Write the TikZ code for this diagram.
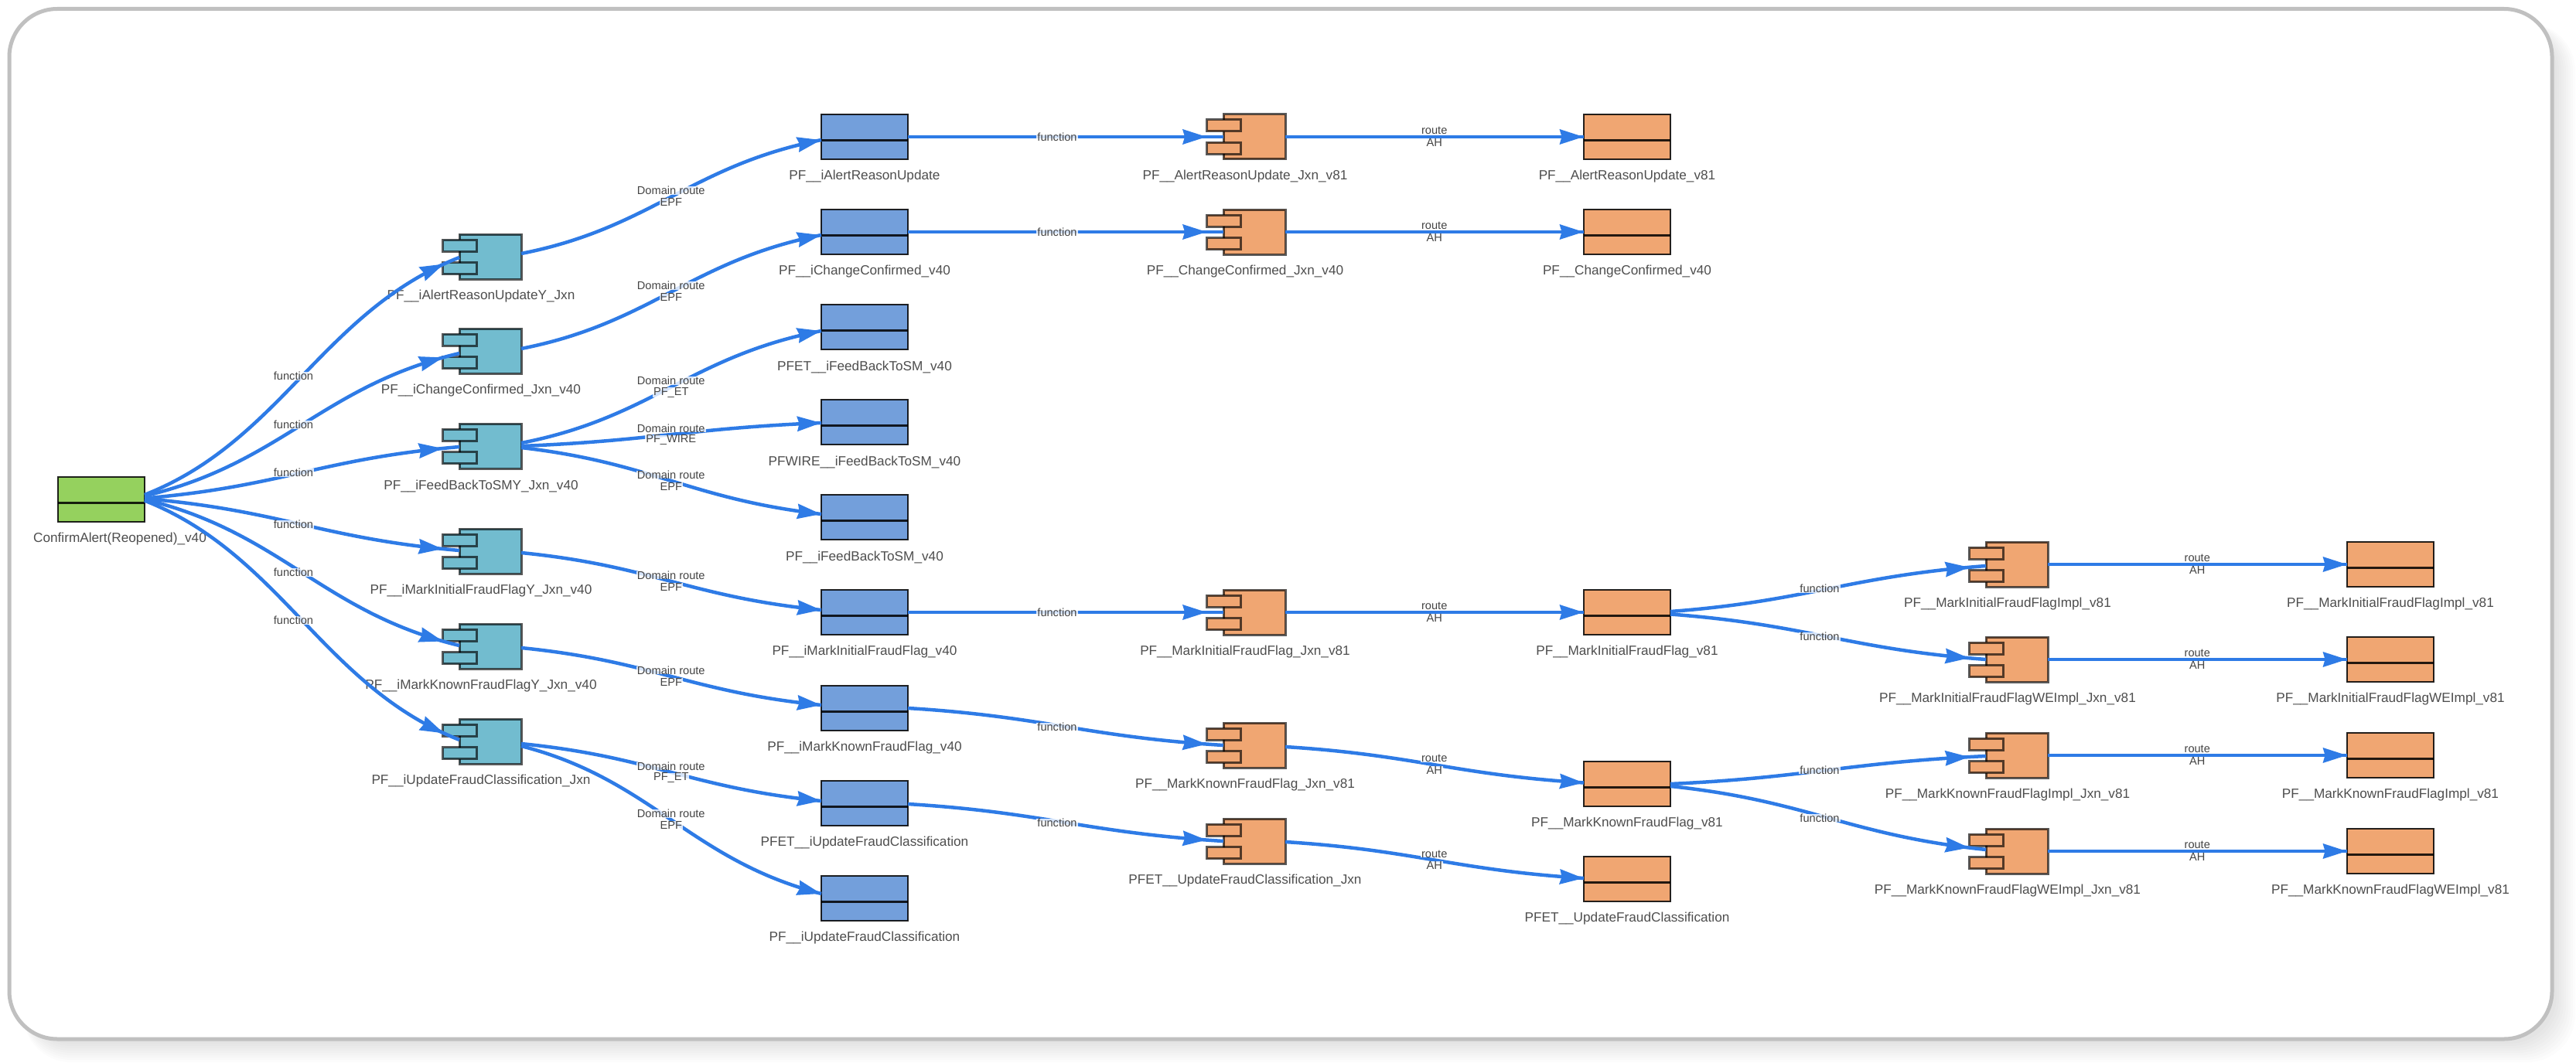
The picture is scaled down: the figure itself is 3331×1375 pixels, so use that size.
\documentclass[tikz,border=0pt]{standalone}
\usepackage{fontspec}
\setmainfont{Liberation Sans}
\usetikzlibrary{calc,decorations.markings}
\catcode`\_=12

\definecolor{flowblue}{HTML}{2E7BE6}
\definecolor{leafgreen}{HTML}{95D15E}
\definecolor{tealfill}{HTML}{72BCCF}
\definecolor{bluefill}{HTML}{739FDB}
\definecolor{orangefill}{HTML}{F0A672}
\definecolor{captiongrey}{HTML}{4E4E4E}
\definecolor{edgegrey}{HTML}{444444}
\definecolor{framegrey}{HTML}{C0C0C0}

\tikzset{
  boxbody/.style={rectangle,anchor=north west,inner sep=0pt,outer sep=0pt,
    minimum width=112pt,minimum height=58pt,draw=black,draw opacity=.85,line width=2.6pt},
  compbody/.style={rectangle,anchor=north west,inner sep=0pt,outer sep=0pt,
    minimum width=80pt,minimum height=58pt,draw=black,draw opacity=.65,line width=3pt},
  comptab/.style={rectangle,anchor=north west,inner sep=0pt,outer sep=0pt,
    minimum width=44pt,minimum height=15pt,draw=black,draw opacity=.65,line width=3pt},
  divider/.style={draw=black,draw opacity=.85,line width=3pt},
  caption/.style={inner sep=0pt,text=captiongrey,font=\fontsize{17.2pt}{20pt}\selectfont},
  edgetext/.style={inner xsep=1pt,inner ysep=0pt,fill=white,fill opacity=.8,text opacity=1,
    text=edgegrey,font=\fontsize{14.6pt}{16pt}\selectfont},
  flow/.style={draw=flowblue,line width=4.5pt},
  headat/.style={postaction={decorate,decoration={markings,
    mark=at position -#1 with {\fill[flowblue] (0pt,0pt) -- (-31pt,10pt) -- (-28pt,0pt) -- (-31pt,-10pt) -- cycle;}}}}
}

% #1 name, #2 left, #3 top, #4 fill, #5 caption: two-band rectangle
\newcommand\bandbox[5]{%
  \node[boxbody,fill=#4] (#1) at (#2+1,#3+1) {};
  \draw[divider] ($(#1.north west)+(0,33.5)$) -- ($(#1.north east)+(0,33.5)$);
  \node[caption] (#1-cap) at ($(#1.north)+(0,80.5)$) {#5};
}
% #1 name, #2 body left, #3 top, #4 fill, #5 caption: component with two tabs
\newcommand\compbox[5]{%
  \node[compbody,fill=#4] (#1) at (#2+1,#3+1) {};
  \node[comptab,fill=#4] (#1-tabA) at (#2-20.5,#3+8) {};
  \node[comptab,fill=#4] (#1-tabB) at (#2-20.5,#3+37.5) {};
  \node[caption] (#1-cap) at ($(#1.north west)+(28,80.5)$) {#5};
}
% #1 source, #2 source offset, #3 target, #4 target offset,
% #5 distance of the arrow tip from the end, #6 label
\newcommand\flowone[6]{%
  \draw[flow,headat=#5pt] let \p1=($(#1.east)+(0,#2)$), \p2=($(#3.west)+(0,#4)$) in
    (\p1) .. controls ({\x1+.435*(\x2-\x1)},{\y1+.226*(\y2-\y1)})
             and ({\x1+.565*(\x2-\x1)},{\y1+.774*(\y2-\y1)}) .. (\p2)
    node[edgetext,pos=.5,xshift=-#5pt/2] (#1-#3-a) {#6};
}
% same, with a two-line label (#6 above #7)
\newcommand\flowtwo[7]{%
  \draw[flow,headat=#5pt] let \p1=($(#1.east)+(0,#2)$), \p2=($(#3.west)+(0,#4)$) in
    (\p1) .. controls ({\x1+.435*(\x2-\x1)},{\y1+.226*(\y2-\y1)})
             and ({\x1+.565*(\x2-\x1)},{\y1+.774*(\y2-\y1)}) .. (\p2)
    node[edgetext,pos=.5,xshift=-#5pt/2,yshift=8pt] (#1-#3-a) {#6}
    node[edgetext,pos=.5,xshift=-#5pt/2,yshift=-7pt] (#1-#3-b) {#7};
}

\begin{document}
\begin{tikzpicture}[x=1pt,y=-1pt]
  \useasboundingbox (0,0) rectangle (3331,1375);
  \fill[white] (0,0) rectangle (3331,1375);

  % soft shadow to the lower right, then the outer frame
  \foreach \r in {24,21,...,0}{
    \fill[black,fill opacity=.012,rounded corners=62pt]
      (30,30) rectangle (3306+\r,1350+\r);
  }
  \draw[draw=framegrey,fill=white,line width=5pt,rounded corners=62pt]
    (12,11.5) rectangle (3300,1344);

  % entry point
  \bandbox{entry}{74}{616}{leafgreen}{}
  \node[caption] (entrycap) at (155,697) {ConfirmAlert(Reopened)_v40};

  % junction components
  \compbox{ta}{593}{302}{tealfill}{PF__iAlertReasonUpdateY_Jxn}
  \compbox{tb}{593}{424}{tealfill}{PF__iChangeConfirmed_Jxn_v40}
  \compbox{tc}{593}{547}{tealfill}{PF__iFeedBackToSMY_Jxn_v40}
  \compbox{td}{593}{683}{tealfill}{PF__iMarkInitialFraudFlagY_Jxn_v40}
  \compbox{te}{593}{806}{tealfill}{PF__iMarkKnownFraudFlagY_Jxn_v40}
  \compbox{tf}{593}{929}{tealfill}{PF__iUpdateFraudClassification_Jxn}

  % interface boxes
  \bandbox{ba}{1061}{147}{bluefill}{PF__iAlertReasonUpdate}
  \bandbox{bb}{1061}{270}{bluefill}{PF__iChangeConfirmed_v40}
  \bandbox{bc}{1061}{393}{bluefill}{PFET__iFeedBackToSM_v40}
  \bandbox{bd}{1061}{516}{bluefill}{PFWIRE__iFeedBackToSM_v40}
  \bandbox{be}{1061}{639}{bluefill}{PF__iFeedBackToSM_v40}
  \bandbox{bf}{1061}{762}{bluefill}{PF__iMarkInitialFraudFlag_v40}
  \bandbox{bg}{1061}{886}{bluefill}{PF__iMarkKnownFraudFlag_v40}
  \bandbox{bh}{1061}{1009}{bluefill}{PFET__iUpdateFraudClassification}
  \bandbox{bi}{1061}{1132}{bluefill}{PF__iUpdateFraudClassification}

  % implementation junctions
  \compbox{ca}{1581}{147}{orangefill}{PF__AlertReasonUpdate_Jxn_v81}
  \compbox{cb}{1581}{270}{orangefill}{PF__ChangeConfirmed_Jxn_v40}
  \compbox{cc}{1581}{762}{orangefill}{PF__MarkInitialFraudFlag_Jxn_v81}
  \compbox{cd}{1581}{934}{orangefill}{PF__MarkKnownFraudFlag_Jxn_v81}
  \compbox{ce}{1581}{1058}{orangefill}{PFET__UpdateFraudClassification_Jxn}

  % implementations
  \bandbox{ra}{2047}{147}{orangefill}{PF__AlertReasonUpdate_v81}
  \bandbox{rb}{2047}{270}{orangefill}{PF__ChangeConfirmed_v40}
  \bandbox{rc}{2047}{762}{orangefill}{PF__MarkInitialFraudFlag_v81}
  \bandbox{rd}{2047}{984}{orangefill}{PF__MarkKnownFraudFlag_v81}
  \bandbox{re}{2047}{1107}{orangefill}{PFET__UpdateFraudClassification}

  % second-level junctions
  \compbox{da}{2567}{700}{orangefill}{PF__MarkInitialFraudFlagImpl_v81}
  \compbox{db}{2567}{823}{orangefill}{PF__MarkInitialFraudFlagWEImpl_Jxn_v81}
  \compbox{dc}{2567}{947}{orangefill}{PF__MarkKnownFraudFlagImpl_Jxn_v81}
  \compbox{dd}{2567}{1071}{orangefill}{PF__MarkKnownFraudFlagWEImpl_Jxn_v81}

  % second-level implementations
  \bandbox{ea}{3034}{700}{orangefill}{PF__MarkInitialFraudFlagImpl_v81}
  \bandbox{eb}{3034}{823}{orangefill}{PF__MarkInitialFraudFlagWEImpl_v81}
  \bandbox{ec}{3034}{947}{orangefill}{PF__MarkKnownFraudFlagImpl_v81}
  \bandbox{ed}{3034}{1071}{orangefill}{PF__MarkKnownFraudFlagWEImpl_v81}

  % entry to junctions
  \flowone{entry}{-6}{ta}{1}{22}{function}
  \flowone{entry}{-4.5}{tb}{3}{22}{function}
  \flowone{entry}{-1.5}{tc}{1}{22}{function}
  \flowone{entry}{-1}{td}{-1}{22}{function}
  \flowone{entry}{0}{te}{-1}{22}{function}
  \flowone{entry}{1.5}{tf}{-2}{22}{function}

  % junctions to interfaces
  \flowtwo{ta}{-4}{ba}{4}{.5}{Domain route}{EPF}
  \flowtwo{tb}{-3}{bb}{4}{.5}{Domain route}{EPF}
  \flowtwo{tc}{-4}{bc}{5}{.5}{Domain route}{PF_ET}
  \flowtwo{tc}{0}{bd}{1}{.5}{Domain route}{PF_WIRE}
  \flowtwo{tc}{2}{be}{-4}{.5}{Domain route}{EPF}
  \flowtwo{td}{2}{bf}{-3}{.5}{Domain route}{EPF}
  \flowtwo{te}{2}{bg}{-4}{.5}{Domain route}{EPF}
  \flowtwo{tf}{3}{bh}{-3}{.5}{Domain route}{PF_ET}
  \flowtwo{tf}{6}{bi}{-6}{.5}{Domain route}{EPF}

  % interfaces to implementation junctions
  \flowone{ba}{0}{ca}{0}{22}{function}
  \flowone{bb}{0}{cb}{0}{22}{function}
  \flowone{bf}{0}{cc}{0}{22}{function}
  \flowone{bg}{0}{cd}{0}{22}{function}
  \flowone{bh}{1}{ce}{0}{22}{function}

  % implementation junctions to implementations
  \flowtwo{ca}{0}{ra}{0}{.5}{route}{AH}
  \flowtwo{cb}{0}{rb}{0}{.5}{route}{AH}
  \flowtwo{cc}{0}{rc}{0}{.5}{route}{AH}
  \flowtwo{cd}{2}{rd}{-1.5}{.5}{route}{AH}
  \flowtwo{ce}{1}{re}{-1}{.5}{route}{AH}

  % implementations to second-level junctions
  \flowone{rc}{-1}{da}{2}{22}{function}
  \flowone{rc}{2.5}{db}{0}{22}{function}
  \flowone{rd}{0}{dc}{1}{22}{function}
  \flowone{rd}{3}{dd}{-2}{22}{function}

  % second-level junctions to implementations
  \flowtwo{da}{0}{ea}{0}{.5}{route}{AH}
  \flowtwo{db}{0}{eb}{0}{.5}{route}{AH}
  \flowtwo{dc}{0}{ec}{0}{.5}{route}{AH}
  \flowtwo{dd}{0}{ed}{0}{.5}{route}{AH}
\end{tikzpicture}
\end{document}
